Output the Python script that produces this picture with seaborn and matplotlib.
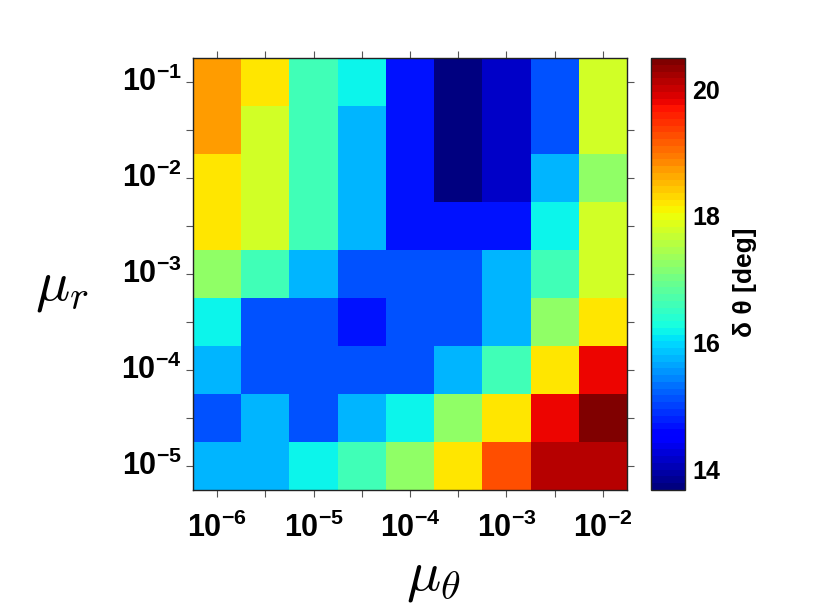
import numpy as np
import pandas as pd
import matplotlib
matplotlib.use("Agg")
import matplotlib.pyplot as plt
from matplotlib.colors import ListedColormap
import seaborn as sns

# ---- data ----
mu_theta_exp = [-6, -5.5, -5, -4.5, -4, -3.5, -3, -2.5, -2]
mu_r_exp = [-1, -1.5, -2, -2.5, -3, -3.5, -4, -4.5, -5]   # top -> bottom
dtheta = [
    [18.72, 18.25, 16.60, 16.13, 14.73, 13.67, 14.15, 15.16, 17.76],
    [18.72, 17.76, 16.60, 15.70, 14.73, 13.67, 14.15, 15.16, 17.76],
    [18.25, 17.76, 16.60, 15.70, 14.73, 13.67, 14.15, 15.70, 17.22],
    [18.25, 17.76, 16.60, 15.70, 14.73, 14.73, 14.73, 16.13, 17.76],
    [17.22, 16.60, 15.70, 15.16, 15.16, 15.16, 15.70, 16.60, 17.76],
    [16.13, 15.16, 15.16, 14.73, 15.16, 15.16, 15.70, 17.22, 18.25],
    [15.70, 15.16, 15.16, 15.16, 15.16, 15.70, 16.60, 18.25, 19.77],
    [15.16, 15.70, 15.16, 15.70, 16.13, 17.22, 18.25, 19.77, 20.49],
    [15.70, 15.70, 16.13, 16.60, 17.22, 18.25, 19.30, 20.12, 20.12],
]
cbar_ticks = [14, 16, 18, 20]

def lab(e):
    return r"$10^{%d}$" % e if float(e).is_integer() else ""

sns.set_style("white")
plt.rcParams["font.family"] = ["Liberation Sans", "DejaVu Sans"]
plt.rcParams["font.weight"] = "bold"
plt.rcParams["text.color"] = "black"
plt.rcParams["xtick.labelcolor"] = "black"
plt.rcParams["ytick.labelcolor"] = "black"
plt.rcParams["mathtext.fontset"] = "custom"
plt.rcParams["mathtext.rm"] = "Liberation Sans:bold"
plt.rcParams["mathtext.bf"] = "Liberation Sans:bold"
plt.rcParams["mathtext.it"] = "Liberation Sans:bold"
plt.rcParams["mathtext.default"] = "it"

df = pd.DataFrame(dtheta, index=mu_r_exp, columns=mu_theta_exp)
vals = df.values
cmap = ListedColormap(plt.get_cmap("jet")(np.linspace(0, 1, 64)))

W, H = 830, 604
fig = plt.figure(figsize=(W / 100, H / 100), dpi=100)
ax = fig.add_axes([193 / W, 1 - 490 / H, 434 / W, 432 / H])
cax = fig.add_axes([651 / W, 1 - 490 / H, 34 / W, 432 / H])

sns.heatmap(df, ax=ax, cbar_ax=cax, cmap=cmap, vmin=vals.min(), vmax=vals.max(),
            xticklabels=[lab(e) for e in mu_theta_exp],
            yticklabels=[lab(e) for e in mu_r_exp])

ax.set_xticklabels([lab(e) for e in mu_theta_exp], rotation=0, fontsize=22, color="black")
ax.set_yticklabels([lab(e) for e in mu_r_exp], rotation=0, fontsize=22, color="black")
ax.set_xlabel("")
ax.set_ylabel("")
for s in ax.spines.values():
    s.set_visible(True)
    s.set_linewidth(1.0)
    s.set_color("#222222")
ax.tick_params(axis="both", which="major", direction="out", length=5, width=0.8,
               color="#555555", top=True, right=True, bottom=True, left=True,
               labeltop=False, labelright=False)
ax.tick_params(axis="x", pad=11)
ax.tick_params(axis="y", pad=3)

cbar = ax.collections[0].colorbar
cbar.set_ticks(cbar_ticks)
cbar.set_ticklabels([str(t) for t in cbar_ticks])
cbar.outline.set_visible(True)
cbar.outline.set_linewidth(1.0)
cbar.outline.set_edgecolor("#222222")
cax.tick_params(axis="y", direction="in", left=True, right=True, length=5,
                width=0.8, labelsize=18, pad=5, color="#333333", labelcolor="black")
for t in cax.get_yticklabels():
    t.set_fontweight("bold")
fig.text(745 / W, 1 - 282 / H, "δ θ [deg]", rotation=90, ha="center", va="center",
         fontsize=19, fontweight="bold", color="black")

fig.text(433 / W, 1 - 577 / H, r"$\mu_\theta$", ha="center", va="center",
         fontsize=41, math_fontfamily="cm", color="black")
fig.text(62 / W, 1 - 287 / H, r"$\mu_r$", ha="center", va="center",
         fontsize=41, math_fontfamily="cm", color="black")

fig.savefig("out.png", dpi=100, facecolor="white")
